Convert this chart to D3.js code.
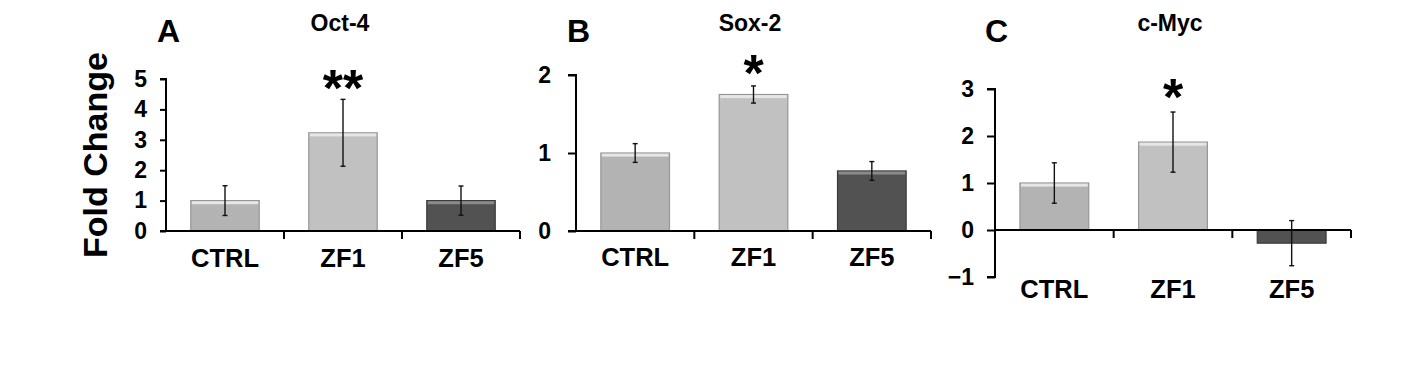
<!DOCTYPE html>
<html><head><meta charset="utf-8">
<script src="https://cdn.jsdelivr.net/npm/d3@7"></script>
<style>body{margin:0;background:#fff}svg{display:block}text{font-family:"Liberation Sans",Arial,sans-serif;font-weight:bold}</style>
</head><body>
<svg id="c" width="1417" height="368"></svg>
<script>
const categories = ["CTRL","ZF1","ZF5"];
const barColors = ["#b3b3b3","#c1c1c1","#525252"];
const oct4 = [1.0, 3.23, 1.0];
const oct4Err = [0.49, 1.1, 0.48];
const sox2 = [1.0, 1.75, 0.77];
const sox2Err = [0.12, 0.11, 0.12];
const cmyc = [1.0, 1.87, -0.28];
const cmycErr = [0.43, 0.64, 0.48];
const oct4Ticks = [0,1,2,3,4,5];
const sox2Ticks = [0,1,2];
const cmycTicks = [-1,0,1,2,3];

const panels = [
  {letter:"A", title:"Oct-4", vals:oct4, errs:oct4Err, ticks:oct4Ticks, dom:[0,5], yr:[231,79], x0:166, x1:520, lx:157, tx:340, stars:"**", starIdx:1, starY:106, catY:267, tick:6, pad:13},
  {letter:"B", title:"Sox-2", vals:sox2, errs:sox2Err, ticks:sox2Ticks, dom:[0,2], yr:[231,75], x0:576, x1:931, lx:567, tx:750, stars:"*", starIdx:1, starY:91, catY:266, tick:8, pad:17},
  {letter:"C", title:"c-Myc", vals:cmyc, errs:cmycErr, ticks:cmycTicks, dom:[-1,3], yr:[277,89], x0:995, x1:1351, lx:985, tx:1170, stars:"*", starIdx:1, starY:115, catY:298, tick:8, pad:13}
];

const svg = d3.select("#c");

svg.append("text").attr("transform","translate(107,155) rotate(-90)")
  .attr("text-anchor","middle").attr("font-size",34).attr("fill","#000").text("Fold Change");

panels.forEach(p=>{
  const g = svg.append("g");
  const y = d3.scaleLinear().domain(p.dom).range(p.yr);
  const x = d3.scaleBand().domain(categories).range([p.x0,p.x1]).paddingInner(0.42).paddingOuter(0.21);
  const y0 = y(0);

  // bars
  p.vals.forEach((v,i)=>{
    const bx = x(categories[i]), bw = x.bandwidth();
    const top = Math.min(y(v), y0), h = Math.abs(y(v)-y0);
    g.append("rect").attr("x",bx).attr("y",top).attr("width",bw).attr("height",h)
      .attr("fill",barColors[i]).attr("stroke", i===2 ? "#3a3a3a" : "#969696").attr("stroke-width",1.2);
    if(v>0){
      g.append("rect").attr("x",bx+1).attr("y",top+0.6).attr("width",bw-2).attr("height",3)
        .attr("fill", i===2 ? "#8a8a8a" : "#e6e6e6");
    }
  });

  // error bars
  p.vals.forEach((v,i)=>{
    const cx = x(categories[i]) + x.bandwidth()/2;
    const hi = y(v+p.errs[i]), lo = y(v-p.errs[i]);
    g.append("line").attr("x1",cx).attr("x2",cx).attr("y1",hi).attr("y2",lo).attr("stroke","#111").attr("stroke-width",1.4);
    [hi,lo].forEach(yy=>g.append("line").attr("x1",cx-2.5).attr("x2",cx+2.5).attr("y1",yy).attr("y2",yy).attr("stroke","#111").attr("stroke-width",1.4));
  });

  // y axis
  const ya = d3.axisLeft(y).tickValues(p.ticks).tickSize(p.tick).tickPadding(p.pad).tickFormat(d3.format("d"));
  const yg = g.append("g").attr("transform",`translate(${p.x0},0)`).call(ya);
  yg.selectAll(".domain").attr("stroke","#000").attr("stroke-width",2).attr("d",`M-${p.tick},${p.yr[1]}H0V${p.yr[0]}H-${p.tick}`);
  yg.selectAll(".tick line").attr("stroke","#000").attr("stroke-width",2);
  yg.selectAll(".tick text").attr("font-size",23).attr("fill","#000").attr("font-family",'"Liberation Sans",Arial,sans-serif').attr("font-weight","bold");

  // x axis at zero
  g.append("line").attr("x1",p.x0).attr("x2",p.x1).attr("y1",y0).attr("y2",y0).attr("stroke","#000").attr("stroke-width",2);
  const bounds = categories.map((c,i)=>p.x0 + x.step()*(i+1));
  bounds.forEach(bx=>g.append("line").attr("x1",bx).attr("x2",bx).attr("y1",y0).attr("y2",y0+8).attr("stroke","#000").attr("stroke-width",2));

  // category labels
  categories.forEach(c=>{
    g.append("text").attr("x",x(c)+x.bandwidth()/2).attr("y",p.catY).attr("text-anchor","middle")
      .attr("font-size",25.5).attr("fill","#000").text(c);
  });

  // title, letter
  g.append("text").attr("x",p.tx).attr("y",31).attr("text-anchor","middle").attr("font-size",23).attr("fill","#000").text(p.title);
  g.append("text").attr("x",p.lx).attr("y",42).attr("font-size",32).attr("fill","#000").text(p.letter);

  // significance stars
  const sc = x(categories[p.starIdx]) + x.bandwidth()/2;
  g.append("text").attr("x",sc).attr("y",p.starY).attr("text-anchor","middle").attr("font-size",52).attr("fill","#000").text(p.stars);
});
</script>
</body></html>
